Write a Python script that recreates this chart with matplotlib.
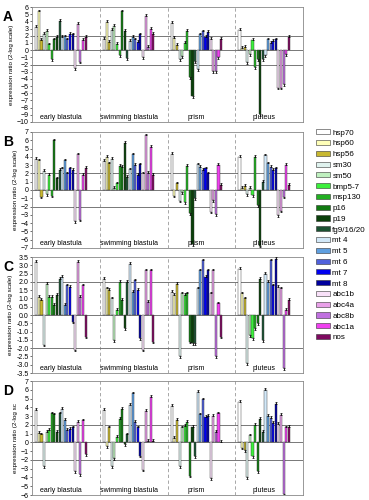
import matplotlib
matplotlib.use("Agg")
import matplotlib.pyplot as plt
from matplotlib.patches import Patch
import numpy as np

plt.rcParams["font.family"] = ["Liberation Sans", "DejaVu Sans"]

genes = ["hsp70", "hsp60", "hsp56", "sm30", "sm50", "bmp5-7", "msp130", "p16", "p19",
         "fg9/16/20", "mt 4", "mt 5", "mt 6", "mt 7", "mt 8", "abc1b", "abc4a", "abc8b",
         "abc1a", "nos"]
colors = ["#ffffff", "#ffffb8", "#c8b830", "#dff2ee", "#bff0bf", "#3cf03c", "#22b022",
          "#117a11", "#0a400a", "#1b5232", "#d2e8f8", "#5f9fe0", "#4f60dc", "#0000f0",
          "#00009e", "#f8e0f8", "#e8a0e8", "#c070e0", "#f040f0", "#7e0a60"]
stages = ["early blastula", "swimming blastula", "prism", "pluteus"]

# values per stage, in gene order (2-log expression ratio)
A_early = [3.2, 5.4, 1.4, 2.3, 2.7, 0.8, -1.2, 1.5, 1.8, 4.1, 1.8, 1.9, 1.5, 2.3, 2.2, -2.5, 3.6, -1.6, 1.4, 1.8]
A_swim = [1.6, 3.9, 1.2, 2.8, 3.4, 0.9, -0.7, 5.4, 2.7, -1.1, 1.3, 1.8, 1.5, 1.2, 2.2, -1.0, 4.8, 0.4, 3.0, 2.3]
A_prism = [3.8, 1.7, 0.7, -1.3, -0.8, 1.0, 2.7, -3.7, -6.4, -1.5, -2.6, 2.2, 2.6, 1.8, 2.5, 1.6, -2.9, -2.9, -1.0, 1.6]
A_plut = [2.8, 0.3, 0.4, -1.7, -0.6, 1.4, -2.4, -1.3, -8.9, -1.3, -0.7, 1.5, 1.0, 1.3, 1.5, -5.2, -5.2, -4.7, -0.6, 1.8]

B_early = [3.8, 3.6, -0.8, 2.3, -0.5, 1.8, -0.7, 6.0, 1.4, 2.4, 2.6, 3.6, 2.0, 2.6, 2.4, -3.8, 4.3, -3.6, 1.8, 2.7]
B_swim = [3.5, 4.0, 3.2, 3.8, 0.3, 0.8, 2.9, 2.8, 5.7, 1.6, 2.5, 4.3, 3.0, 1.8, 3.1, 2.0, 6.6, 2.1, 5.2, 1.8]
B_prism = [4.4, -0.7, 0.8, -1.3, -0.3, -1.5, 2.9, -2.8, -6.5, -1.0, 3.1, 2.8, 2.4, 2.6, 2.0, -2.6, -1.2, -2.9, 3.0, 0.6]
B_plut = [4.0, 0.3, 0.5, -0.5, 0.3, -0.6, 4.0, -1.8, -6.7, 1.0, 4.2, 3.2, 2.8, 2.4, 2.6, -3.0, -2.5, -0.8, 3.0, 0.6]

C_early = [3.2, 1.1, 0.9, -1.8, 1.9, 1.1, 1.1, 0.6, 1.2, 2.2, 2.3, 0.6, 1.8, 1.7, -0.4, -2.1, 3.2, 1.1, 1.8, -1.3]
C_swim = [2.2, 1.6, 1.5, 1.0, -1.5, 0.3, 2.0, 0.9, -0.8, 2.0, 3.1, 1.4, 2.1, 1.5, -1.4, -2.1, 2.7, 0.8, 2.7, -1.6]
C_prism = [1.4, 1.2, 1.9, -2.5, 1.3, 1.2, 1.3, -1.6, -1.7, -1.7, 1.6, 2.7, 3.3, 2.3, 2.7, 1.3, 2.7, -2.5, 0.7, -1.3]
C_plut = [2.8, 1.3, 1.0, -2.9, -1.2, -1.4, -0.8, -0.5, 2.2, -1.5, 2.5, 2.0, 3.3, 1.8, 3.4, 1.7, 1.6, -3.2, 0.3, 0.9]

D_early = [3.7, 1.1, 0.9, -2.7, 1.2, 1.4, 3.3, 3.2, 1.2, 3.3, 3.8, 2.6, 1.4, 1.5, 1.7, -3.3, 2.3, -3.6, 2.5, -1.3]
D_swim = [3.7, -0.4, 1.7, -2.7, -1.8, 0.6, 2.7, 3.8, -0.2, 0.9, 4.3, 5.6, 2.3, 1.7, -1.5, -3.1, 3.6, 0.2, 5.2, 0.2]
D_prism = [4.2, 0.5, 2.6, -2.7, 1.7, 1.9, 2.3, -3.8, 1.8, -1.6, 5.8, 3.2, 4.9, 2.9, 3.0, -4.1, 3.0, 1.2, 3.3, 0.1]
D_plut = [4.6, -0.6, -0.9, -4.0, 0.8, -1.6, 2.0, -3.3, 2.7, 1.2, 6.0, 3.0, 2.8, 2.2, 4.4, 2.1, 3.1, -5.9, 1.7, 1.8]

panels = [
    ("A", [A_early, A_swim, A_prism, A_plut], (-10, 6), 1, 0.25, "expression ratio (2-log scale)"),
    ("B", [B_early, B_swim, B_prism, B_plut], (-7, 7), 1, 0.2, "expression ratio (2-log scale)"),
    ("C", [C_early, C_swim, C_prism, C_plut], (-3.5, 3.5), 0.5, 0.1, "expression ratio (2-log scale)"),
    ("D", [D_early, D_swim, D_prism, D_plut], (-6, 7), 1, 0.2, "expression ratio (2-log sc"),
]

# axes boxes in pixels: top, bottom
boxes = [(7, 122), (132, 248), (257, 373), (381, 495)]

fig = plt.figure(figsize=(3.69, 5.0), dpi=100)
W, H = 369, 500
slot = 0.0383
start = 0.044

for (letter, data, ylim, step, err, ylab), (top, bot) in zip(panels, boxes):
    ax = fig.add_axes([32 / W, 1 - bot / H, 271 / W, (bot - top) / H])
    for g, vals in enumerate(data):
        xs = g + start + slot * (np.arange(len(vals)) + 0.5)
        vals = np.array(vals)
        ax.bar(xs, vals, width=slot * 0.8, color=colors, edgecolor="#333333", linewidth=0.3, zorder=3)
        lo = np.where(vals < 0, err, 0)
        hi = np.where(vals > 0, err, 0)
        ax.errorbar(xs, vals, yerr=[lo, hi], fmt="none", ecolor="black", elinewidth=0.6,
                    capsize=0.8, capthick=0.5, zorder=4)
        ax.text(g + start + slot * 10, ylim[0] + (ylim[1] - ylim[0]) * 0.01, stages[g],
                ha="center", va="bottom", fontsize=5)
    for yl in (2, 0, -2):
        ax.axhline(yl, color="#777777", lw=0.7, zorder=2)
    for xl in (1, 2, 3):
        ax.axvline(xl, color="#999999", lw=0.6, ls=(0, (4, 3)), zorder=1)
    ax.set_xlim(0, 4)
    ax.set_ylim(*ylim)
    ax.set_xticks([])
    ticks = np.arange(ylim[0], ylim[1] + step / 2, step)
    ax.set_yticks(ticks)
    if step < 1:
        ax.set_yticklabels([f"{t:.1f}" for t in ticks])
    ax.tick_params(axis="y", labelsize=5, length=1.5, width=0.4, pad=1)
    for s in ax.spines.values():
        s.set_color("#888888")
        s.set_linewidth(0.6)
    ax.set_ylabel(ylab, fontsize=4.5, labelpad=2)
    fig.text(3 / W, 1 - (top + 3) / H, letter, fontsize=10, fontweight="bold", va="top", ha="left")

handles = [Patch(facecolor=c, edgecolor="#333333", linewidth=0.4) for c in colors]
fig.legend(handles, genes, loc="upper left", bbox_to_anchor=(313 / W, 1 - 126 / H),
           frameon=False, fontsize=5.8, handlelength=1.7, handleheight=0.6,
           labelspacing=0.42, handletextpad=0.3, borderaxespad=0)

fig.savefig("out.png", dpi=100)
